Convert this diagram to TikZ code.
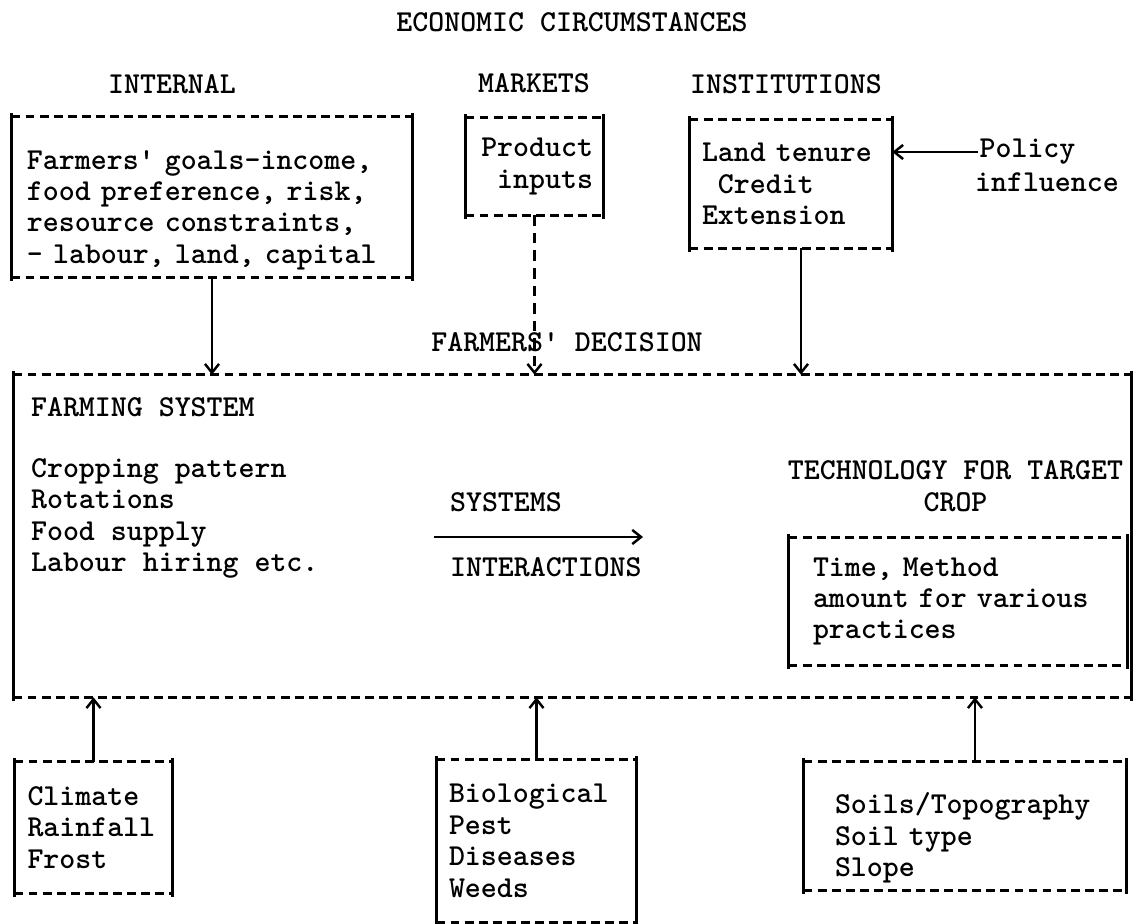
\documentclass[tikz,border=0pt]{standalone}
\usepackage{amssymb,amsmath}
\usepackage{tikz}
\usetikzlibrary{positioning}
\usetikzlibrary{arrows.meta}
\tikzset{% boxes: dashed top and bottom, solid sides
        dashline/.style={line width=1.6pt, dash pattern=on 5pt off 3pt},
        sideline/.style={line width=1.5pt},
        sidebox/.style={rectangle, inner ysep=0pt, align=left},
        plain/.style={inner sep=1pt, align=left},
        link/.style={line width=1.4pt, ->}
        }
\newcommand{\boxedges}[1]{%
  \draw[dashline] (#1.north west) -- (#1.north east);
  \draw[dashline] (#1.south west) -- (#1.south east);
  \draw[sideline] ([yshift=2pt]#1.north west) -- ([yshift=-2pt]#1.south west);
  \draw[sideline] ([yshift=2pt]#1.north east) -- ([yshift=-2pt]#1.south east);
}

\begin{document}
\begin{tikzpicture}[>={Straight Barb[length=5pt,width=8pt]},
  every node/.style={font=\fontsize{17.3}{17.9}\selectfont\ttfamily\bfseries}]
\useasboundingbox (0,0) rectangle (22.66,18.46);

\node[plain] (title) at (11.44,18.02) {ECONOMIC CIRCUMSTANCES};
\node[plain] (internalhd) at (3.44,16.78) {INTERNAL};
\node[plain] (marketshd) at (10.68,16.80) {MARKETS};
\node[plain] (insthd) at (15.72,16.78) {INSTITUTIONS};

\node[sidebox, minimum width=8cm, minimum height=3.2cm, text width=7.4cm, inner xsep=0.3cm] (internal) at (4.24,14.52) {\rule{0pt}{0.9cm}Farmers\textquotesingle{} goals-income,\\ food preference, risk,\\ resource constraints,\\ - labour, land, capital};
\node[sidebox, align=right, minimum width=2.74cm, minimum height=1.94cm, text width=2.34cm, inner xsep=0.2cm] (markets) at (10.69,15.13) {Product\\ inputs};
\node[sidebox, minimum width=4.04cm, minimum height=2.56cm, text width=3.56cm, inner xsep=0.24cm] (inst) at (15.82,14.78) {Land tenure\\ \phantom{L}Credit\\ Extension};
\node[plain, anchor=west] (policy) at (19.55,15.42) {Policy};
\node[plain, anchor=west] (influence) at (19.46,14.82) {influence};

\node[plain] (decision) at (11.34,11.62) {FARMERS\textquotesingle{} DECISION};

\node[sidebox, minimum width=22.34cm, minimum height=6.44cm] (farm) at (11.45,7.74) {};
\node[plain, anchor=west] (farmhd) at (0.58,10.32) {FARMING SYSTEM};
\node[plain, anchor=west] (pattern) at (0.58,8.09) {Cropping pattern\\ Rotations\\ Food supply\\ Labour hiring etc.};
\node[plain, anchor=west] (systems) at (8.96,8.42) {SYSTEMS};
\node[plain, anchor=west] (interact) at (8.96,7.12) {INTERACTIONS};
\node[plain, align=center] (techhd) at (19.11,8.74) {TECHNOLOGY FOR TARGET\\ CROP};
\node[sidebox, minimum width=6.76cm, minimum height=2.54cm, text width=5.8cm, inner xsep=0.48cm] (tech) at (19.16,6.43) {Time, Method\\ amount for various\\ practices};

\node[sidebox, minimum width=3.14cm, minimum height=2.62cm, text width=2.64cm, inner xsep=0.25cm] (climate) at (1.87,1.91) {Climate\\ Rainfall\\ Frost};
\node[sidebox, minimum width=3.98cm, minimum height=3.24cm, text width=3.5cm, inner xsep=0.24cm] (bio) at (10.73,1.64) {Biological\\ Pest\\ Diseases\\ Weeds};
\node[sidebox, minimum width=6.44cm, minimum height=2.56cm, text width=5.2cm, inner xsep=0.62cm] (soils) at (19.30,1.94) {\rule{0pt}{0.9cm}Soils/Topography\\ Soil type\\ Slope};

\boxedges{internal}
\boxedges{markets}
\boxedges{inst}
\boxedges{farm}
\boxedges{tech}
\boxedges{climate}
\boxedges{bio}
\boxedges{soils}

\coordinate (instfoot) at ([xshift=0.2cm]inst.south);
\coordinate (soilshead) at ([xshift=0.2cm]soils.north);
\coordinate (sysleft) at (8.68,7.72);
\coordinate (sysright) at (12.86,7.72);

\draw[link] (internal.south) -- (internal.south |- farm.north);
\draw[link, dash pattern=on 6pt off 4pt] (markets.south) -- (markets.south |- farm.north);
\draw[link] (instfoot) -- (instfoot |- farm.north);
\draw[link] (policy.west) -- (policy.west -| inst.east);
\draw[link] (sysleft) -- (sysright);
\draw[link] (climate.north) -- (climate.north |- farm.south);
\draw[link] (bio.north) -- (bio.north |- farm.south);
\draw[link] (soilshead) -- (soilshead |- farm.south);
\end{tikzpicture}
\end{document}
